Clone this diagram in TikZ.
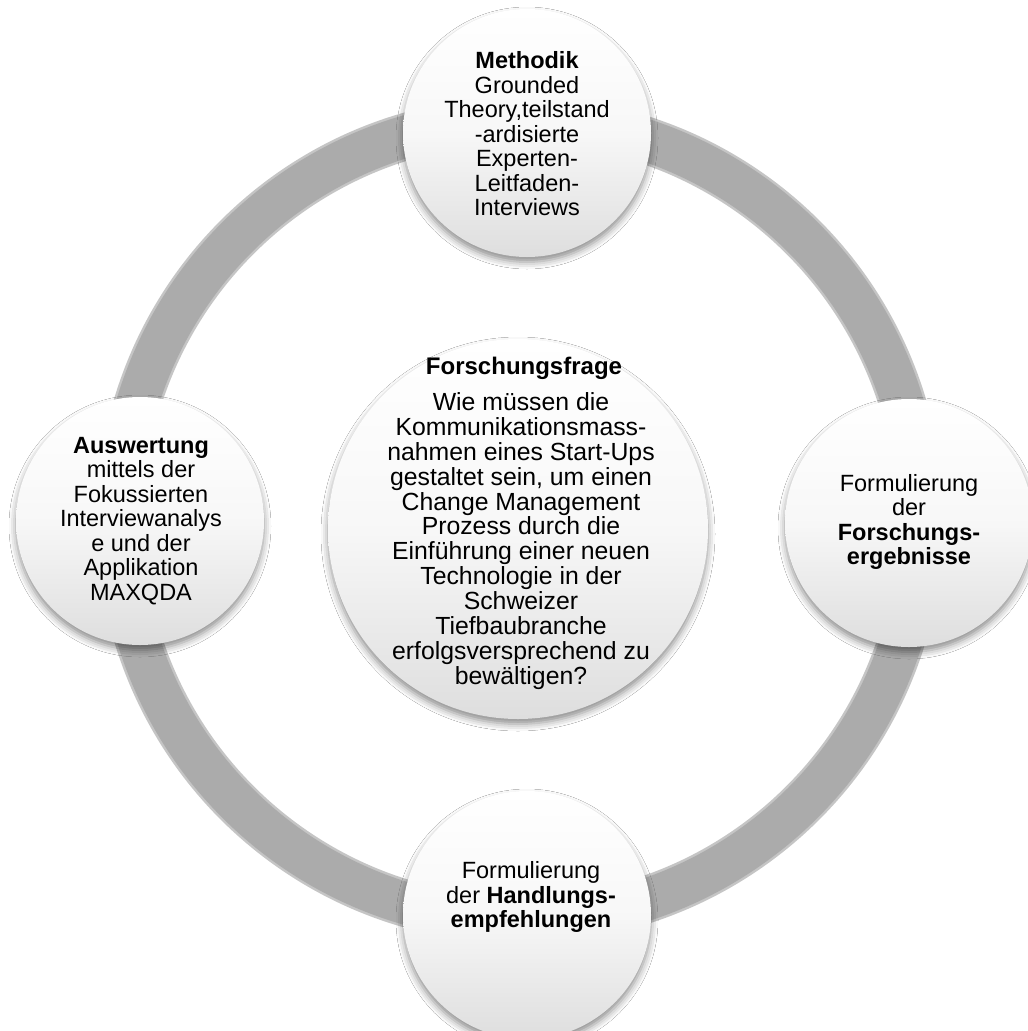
\documentclass[tikz,border=0pt]{standalone}
\usepackage{fontspec}
\setmainfont{Liberation Sans}
\usetikzlibrary{shadows.blur,calc}
\tikzset{
  sat/.style={circle, minimum size=248pt, inner sep=0pt,
    top color=white, bottom color=black!13, middle color=white!97!black,
    blur shadow={shadow xshift=0pt, shadow yshift=-5pt, shadow blur radius=7pt, shadow opacity=45}},
  lbl/.style={align=center, font=\fontsize{23.5}{24.5}\selectfont, inner sep=0pt},
  bodytxt/.style={align=center, font=\fontsize{24.8}{24.9}\selectfont, inner sep=0pt},
  ringline/.style={line width=42pt, draw=black!33},
  ringshadow/.style={line width=47pt, draw=black!50, opacity=0.45},
}
\begin{document}
\begin{tikzpicture}[x=1pt,y=-1pt]
\useasboundingbox (0,0) rectangle (1028,1031);
\fill[white] (0,0) rectangle (1028,1031);
\coordinate (rc) at (520,520);
\draw[ringshadow] (rc) circle (400pt);
\draw[ringline] (rc) circle (400pt);

\node[sat] (methodik) at (527,133) {};
\node[lbl] (methodiktxt) at (527,134) {\textbf{Methodik}\\Grounded\\Theory,teilstand\\-ardisierte\\Experten-\\Leitfaden-\\Interviews};

\node[sat] (auswertung) at (140,521) {};
\node[lbl] (auswertungtxt) at (141,521) {\textbf{Auswertung}\\mittels der\\Fokussierten\\Interviewanalys\\e und der\\Applikation\\MAXQDA};

\node[sat] (ergebnisse) at (909,523) {};
\node[lbl] (ergebnissetxt) at (909,522) {Formulierung\\der\\\textbf{Forschungs-}\\\textbf{ergebnisse}};

\node[sat] (handlung) at (527,915) {};
\node[lbl] (handlungtxt) at (531,897) {Formulierung\\der \textbf{Handlungs-}\\\textbf{empfehlungen}};

\node[sat, minimum size=380pt] (frage) at (518,529) {};
\node[lbl, font=\bfseries\fontsize{24}{24}\selectfont] (fragetitel) at (524,368) {Forschungsfrage};
\node[bodytxt] (fragetext) at (521,541) {Wie müssen die\\Kommunikationsmass-\\nahmen eines Start-Ups\\gestaltet sein, um einen\\Change Management\\Prozess durch die\\Einführung einer neuen\\Technologie in der\\Schweizer\\Tiefbaubranche\\erfolgsversprechend zu\\bewältigen?};
\end{tikzpicture}
\end{document}
